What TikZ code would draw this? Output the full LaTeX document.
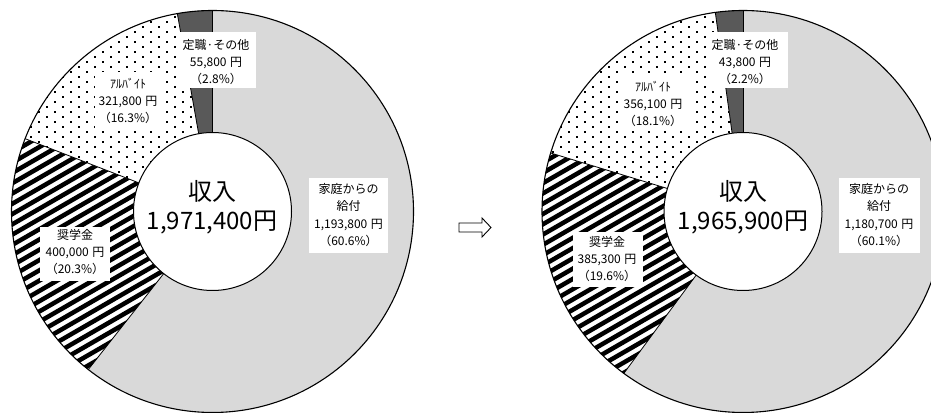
\documentclass[tikz,border=0pt]{standalone}
\usepackage{fontspec}
\setmainfont{Noto Sans CJK JP}
\definecolor{famgray}{HTML}{D9D9D9}
\definecolor{othgray}{HTML}{595959}
\newcommand{\Ro}{201}
\newcommand{\ri}{79}
\newcommand{\yen}{\hspace{3.5pt}円}
\newcommand{\wedgepath}[3]{(#1) -- ++(#2:\Ro) arc[start angle=#2,end angle=#3,radius=\Ro] -- cycle}
\newcommand{\ringchart}[5]{%
  \coordinate (#1c) at #2;
  \fill[famgray] \wedgepath{#1c}{90}{#3};
  \fill[white] \wedgepath{#1c}{#3}{#4};
  \begin{scope}
    \clip \wedgepath{#1c}{#3}{#4};
    \foreach \k in {-30,...,30}
      \draw[line width=4.5pt, shift={(#1c)}] (120:{\k*8.9}) ++(210:260) -- ++(30:520);
  \end{scope}
  \fill[white] \wedgepath{#1c}{#4}{#5};
  \begin{scope}
    \clip \wedgepath{#1c}{#4}{#5};
    \foreach \i in {0,...,27}
      \foreach \j in {0,...,22}
        \fill[shift={(#1c)}] ({-207+\i*8},{-12+\j*10+5*mod(\i,2)}) rectangle ++(2.1,2.1);
  \end{scope}
  \fill[othgray] \wedgepath{#1c}{#5}{-270};
  \foreach \a in {90,#3,#4,#5}
    \draw[line width=0.8pt] (#1c) -- ++(\a:\Ro);
  \draw[line width=1.1pt] (#1c) circle[radius=\Ro];
  \draw[line width=1pt, fill=white] (#1c) circle[radius=\ri];
}
\tikzset{
  lblbox/.style={fill=white, draw=none, inner sep=0pt},
  lbl/.style={align=center, inner sep=0pt, font=\fontsize{12}{17.2}\selectfont},
  bigtxt/.style={align=center, inner sep=0pt, font=\fontsize{24}{29}\selectfont},
}
\begin{document}
\begin{tikzpicture}[x=1pt,y=1pt]
\useasboundingbox (0,0) rectangle (931,412);
% left chart
\ringchart{L}{(212.5,200.5)}{-128.16}{-201.24}{-259.92}
\node[lblbox, minimum width=79, minimum height=56] (Lbx1) at (216.5,352) {};
\node[lbl] (Lt1) at (216,350) {定職·その他\\55,800\yen\\（2.8\%）};
\node[lblbox, minimum width=67, minimum height=56] (Lbx2) at (128.5,312) {};
\node[lbl] (Lt2) at (128,311) {ｱﾙﾊﾞｲﾄ\\321,800\yen\\（16.3\%）};
\node[lblbox, minimum width=79, minimum height=75] (Lbx3) at (348.5,196.5) {};
\node[lbl] (Lt3) at (348.5,197) {家庭からの\\給付\\1,193,800\yen\\（60.6\%）};
\node[lblbox, minimum width=70, minimum height=54] (Lbx4) at (75,157.5) {};
\node[lbl] (Lt4) at (75,160) {奨学金\\400,000\yen\\（20.3\%）};
\node[bigtxt] (Ltot) at (212,204.5) {収入\\1,971,400円};
% arrow
\draw[line width=0.9pt, fill=white] (459,189) -- (482,189) -- (482,194) -- (491,184.5) -- (482,175) -- (482,180) -- (459,180) -- cycle;
% right chart
\ringchart{R}{(743,200.5)}{-126.36}{-196.92}{-262.08}
\node[lblbox, minimum width=80, minimum height=56] (Rbx1) at (748,352) {};
\node[lbl] (Rt1) at (745,350) {定職·その他\\43,800\yen\\（2.2\%）};
\node[lblbox, minimum width=68, minimum height=56] (Rbx2) at (656,309) {};
\node[lbl] (Rt2) at (653,308) {ｱﾙﾊﾞｲﾄ\\356,100\yen\\（18.1\%）};
\node[lblbox, minimum width=81, minimum height=75] (Rbx3) at (879.5,196.5) {};
\node[lbl] (Rt3) at (879,197) {家庭からの\\給付\\1,180,700\yen\\（60.1\%）};
\node[lblbox, minimum width=70, minimum height=55] (Rbx4) at (608,152.5) {};
\node[lbl] (Rt4) at (607,153) {奨学金\\385,300\yen\\（19.6\%）};
\node[bigtxt] (Rtot) at (743,204.5) {収入\\1,965,900円};
\end{tikzpicture}
\end{document}
